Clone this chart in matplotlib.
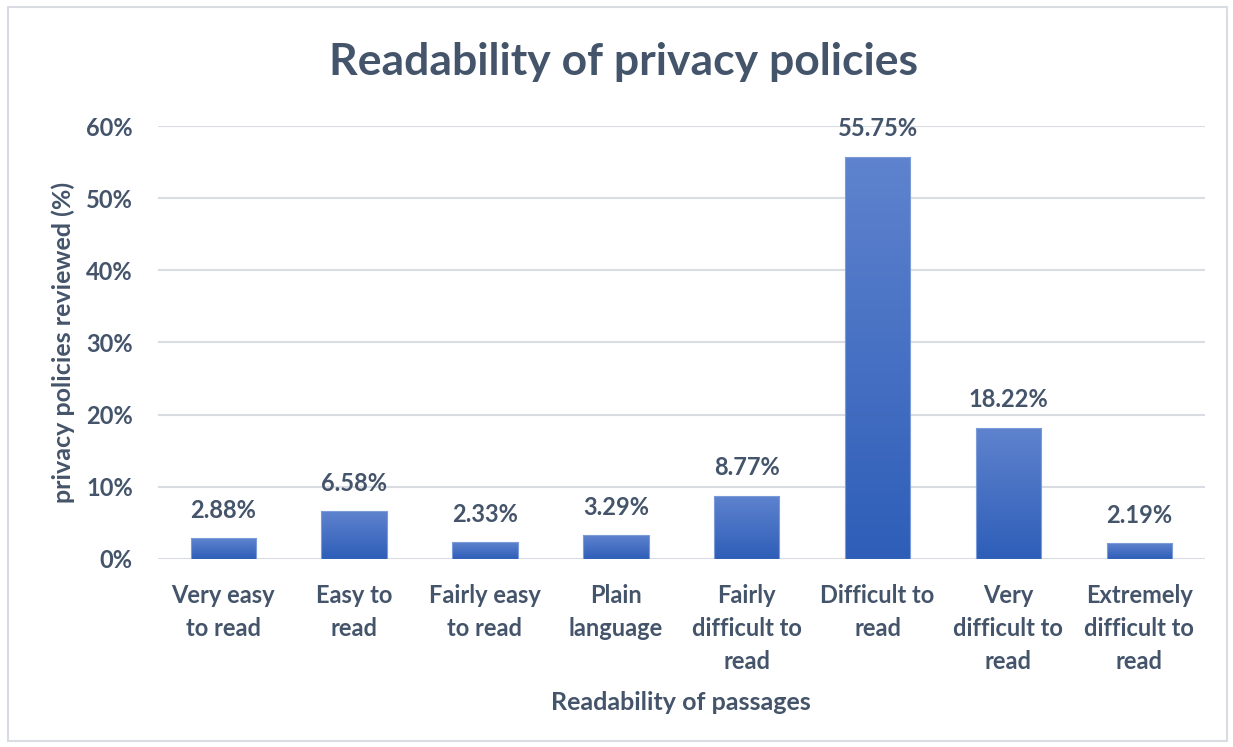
import matplotlib
matplotlib.use("Agg")
import matplotlib.pyplot as plt
import numpy as np
from matplotlib.patches import Rectangle
from matplotlib.ticker import FuncFormatter

categories = ["Very easy\nto read", "Easy to\nread", "Fairly easy\nto read", "Plain\nlanguage",
              "Fairly\ndifficult to\nread", "Difficult to\nread", "Very\ndifficult to\nread",
              "Extremely\ndifficult to\nread"]
values = [2.88, 6.58, 2.33, 3.29, 8.77, 55.75, 18.22, 2.19]
yticks = [0, 10, 20, 30, 40, 50, 60]

TXT = "#44546A"
plt.rcParams['font.family'] = ['Lato', 'DejaVu Sans']

fig = plt.figure(figsize=(12.33, 7.47), dpi=100)
ax = fig.add_axes([0.128, 0.2517, 0.849, 0.5796])

x = np.arange(len(values))
bars = ax.bar(x, values, width=0.5, color='none', edgecolor='#7C9BD9', linewidth=0.8, zorder=3)

# gradient fill
top = np.array([95, 131, 206]) / 255
bot = np.array([46, 94, 184]) / 255
cols = (bot[None, :] + (top - bot)[None, :] * np.linspace(0, 1, 256)[:, None])[:, None, :]
for b in bars:
    x0, y0 = b.get_x(), b.get_y()
    w, h = b.get_width(), b.get_height()
    im = ax.imshow(cols, extent=[x0, x0 + w, y0, y0 + h], origin='lower', aspect='auto', zorder=2)
    im.set_clip_path(b)

ax.set_xlim(-0.5, len(values) - 0.5)
ax.set_ylim(0, 60)
ax.set_yticks(yticks)
ax.yaxis.set_major_formatter(FuncFormatter(lambda v, p: f"{v:.0f}%"))
ax.grid(axis='y', color='#D9DDE3', linewidth=1.5, zorder=0)
ax.set_axisbelow(True)
for s in ax.spines.values():
    s.set_visible(False)
ax.tick_params(axis='both', length=0, labelsize=17, labelcolor=TXT)
ax.tick_params(axis='y', pad=18)
ax.set_xticks(x)
ax.set_xticklabels(categories, fontweight='bold', linespacing=1.52, va='top')
ax.tick_params(axis='x', pad=18)
for lab in ax.get_yticklabels():
    lab.set_fontweight('bold')

for xi, v in zip(x, values):
    ax.annotate(f"{v:.2f}%", (xi, v), xytext=(0, 12), textcoords='offset points',
                ha='center', va='bottom', fontsize=17, fontweight='bold', color=TXT)

fig.text(63 / 1233, 1 - 342 / 747, "privacy policies reviewed (%)", rotation=90, ha='center', va='center',
         fontsize=18, fontweight='bold', color=TXT)
fig.text(681 / 1233, 1 - 702 / 747, "Readability of passages", ha='center', va='center',
         fontsize=18, fontweight='bold', color=TXT)
fig.text(0.506, 0.917, "Readability of privacy policies", ha='center', va='center',
         fontsize=32, fontweight='bold', color=TXT)

fig.patches.append(Rectangle((0.0065, 0.008), 0.989, 0.982, transform=fig.transFigure,
                             fill=False, edgecolor='#D9DDE3', linewidth=1.5))

fig.savefig("out.png", dpi=100, facecolor='white')
